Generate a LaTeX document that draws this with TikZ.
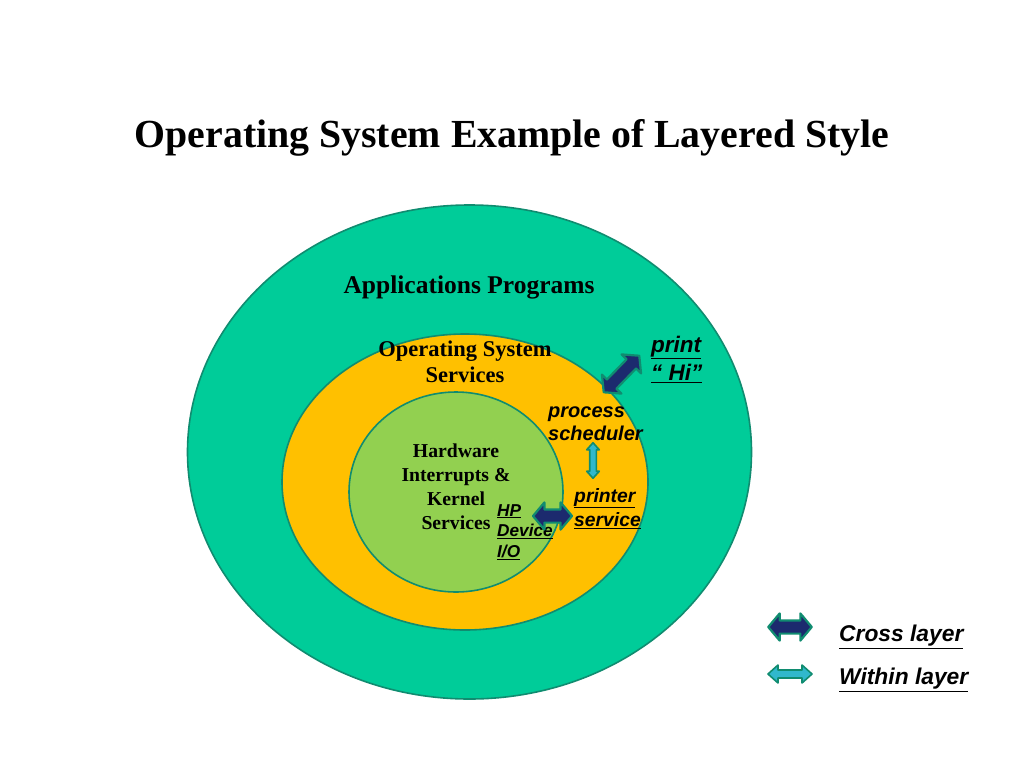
\documentclass[tikz,border=0pt]{standalone}
\usepackage{fontspec}
\setmainfont{Liberation Serif}
\newfontfamily\arialf{Liberation Sans}
\usetikzlibrary{shapes.geometric,shapes.arrows}
\definecolor{outerc}{HTML}{00CC99}
\definecolor{midc}{HTML}{FFC000}
\definecolor{innerc}{HTML}{92D050}
\definecolor{rimc}{HTML}{108C70}
\definecolor{navyc}{HTML}{1C2A6E}
\definecolor{cyanc}{HTML}{30B8CC}
\tikzset{
  layer/.style={ellipse, draw=rimc, line width=1.6pt, inner sep=0pt},
  serifbold/.style={font=\bfseries, align=center, text=black},
  sanslab/.style={font=\arialf\bfseries\itshape, align=left, text=black, inner sep=0pt},
  crossarrow/.style={double arrow, draw=rimc, fill=navyc, line width=2.2pt, line join=round, minimum width=25.5pt, inner xsep=0pt, inner ysep=5.5pt, double arrow head extend=7pt, double arrow tip angle=100},
  withinarrow/.style={double arrow, draw=rimc, fill=cyanc, line width=1.6pt, line join=round, inner xsep=0pt, double arrow tip angle=84},
}
\begin{document}
\begin{tikzpicture}[x=1pt,y=-1pt]
\useasboundingbox[fill=white] (0,0) rectangle (1024,768);
\node[font=\bfseries\fontsize{39.8}{44}\selectfont] (title) at (512,138) {Operating System Example of Layered Style};
\node[layer, fill=outerc, minimum width=564pt, minimum height=494pt] (outer) at (469.5,452) {};
\node[layer, fill=midc, minimum width=366pt, minimum height=296pt] (middle) at (465,482) {};
\node[layer, fill=innerc, minimum width=214pt, minimum height=200pt] (inner) at (456,492) {};
\node[serifbold, font=\bfseries\fontsize{25.5}{28}\selectfont] (apps) at (469,287) {Applications Programs};
\node[serifbold, font=\bfseries\fontsize{22.5}{26}\selectfont] (oss) at (465,362) {Operating System\\Services};
\node[serifbold, font=\bfseries\fontsize{19.7}{24}\selectfont] (hw) at (456,487) {Hardware\\Interrupts \&\\Kernel\\Services};
\node[sanslab, font=\arialf\bfseries\itshape\fontsize{17.2}{20.5}\selectfont, anchor=north west] (hp) at (497,504) {\underline{HP}\\\underline{Device}\\\underline{I/O}};
\node[sanslab, font=\arialf\bfseries\itshape\fontsize{22.5}{28}\selectfont, anchor=north west] (hi) at (651,336) {\underline{print}\\\underline{\textquotedblleft\ Hi\textquotedblright}};
\node[sanslab, font=\arialf\bfseries\itshape\fontsize{20}{23}\selectfont, anchor=north west] (sched) at (548,407) {process\\scheduler};
\node[sanslab, font=\arialf\bfseries\itshape\fontsize{19.3}{24}\selectfont, anchor=north west] (printer) at (574,488) {\underline{printer}\\\underline{service}};
\node[crossarrow, minimum height=51pt, rotate=45.8] (a1) at (621.5,374) {};
\node[withinarrow, minimum height=35.5pt, minimum width=12.5pt, inner ysep=2.5pt, double arrow head extend=3pt, rotate=90] (a2) at (593,460.5) {};
\node[crossarrow, minimum height=39pt] (a3) at (552.5,516) {};
\node[crossarrow, minimum height=43.5pt] (lc) at (790,627) {};
\node[withinarrow, minimum height=44pt, minimum width=16.5pt, inner ysep=3.2pt, double arrow head extend=5pt] (lw) at (790,674) {};
\node[sanslab, font=\arialf\bfseries\itshape\fontsize{22.8}{26}\selectfont, anchor=west] (lct) at (839,637) {\underline{Cross layer}};
\node[sanslab, font=\arialf\bfseries\itshape\fontsize{22.8}{26}\selectfont, anchor=west] (lwt) at (839,680) {\underline{Within layer}};
\end{tikzpicture}
\end{document}
